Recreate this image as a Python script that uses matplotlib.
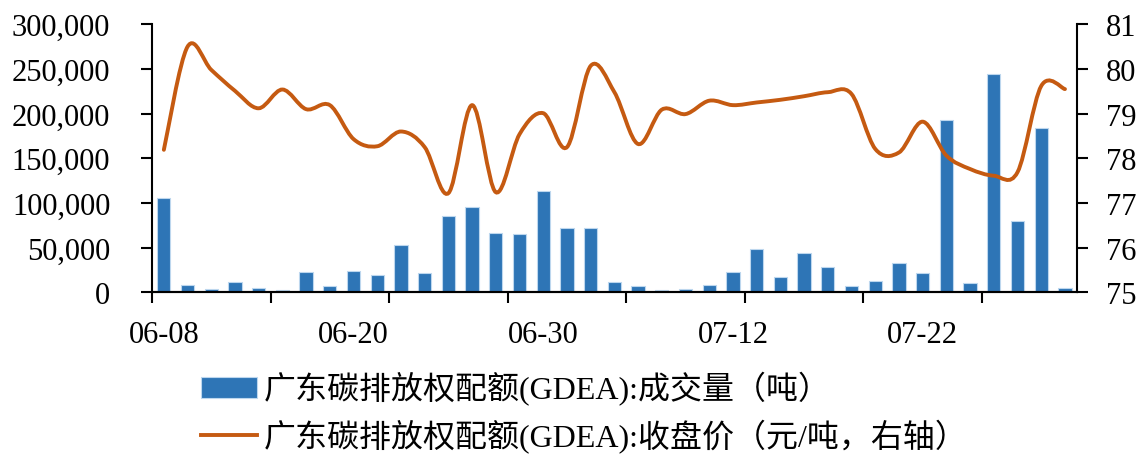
import matplotlib
matplotlib.use("Agg")
import matplotlib.pyplot as plt
from matplotlib.path import Path
from matplotlib.patches import PathPatch, Patch
from matplotlib.lines import Line2D
from matplotlib.ticker import FuncFormatter

dates = ["06-08", "06-09", "06-10", "06-13", "06-14", "06-15", "06-16", "06-17",
         "06-20", "06-21", "06-22", "06-23", "06-24", "06-27", "06-28", "06-29",
         "06-30", "07-01", "07-04", "07-05", "07-06", "07-07", "07-08", "07-11",
         "07-12", "07-13", "07-14", "07-15", "07-18", "07-19", "07-20", "07-21",
         "07-22", "07-25", "07-26", "07-27", "07-28", "07-29", "08-01"]

volume = [105200, 8200, 3700, 11200, 4500, 2200, 22400, 7400, 24200, 19700,
          52600, 21900, 85700, 95800, 66700, 64900, 113000, 72000, 72300, 11200,
          6700, 2900, 3700, 7800, 23100, 48100, 17100, 44000, 28000, 7400,
          12300, 32800, 22000, 192900, 10800, 244400, 79500, 183600, 4800]

price = [78.19, 80.50, 79.98, 79.51, 79.12, 79.54, 79.10, 79.19, 78.43, 78.27,
         78.60, 78.25, 77.22, 79.19, 77.24, 78.54, 79.01, 78.25, 80.07, 79.48,
         78.32, 79.09, 78.99, 79.29, 79.19, 79.25, 79.31, 79.39, 79.48, 79.44,
         78.21, 78.13, 78.82, 78.06, 77.76, 77.61, 77.69, 79.62, 79.55]

label_idx = [0, 8, 16, 24, 32]

BLUE = "#2E75B6"
ORANGE = "#C55A11"
FS = 22
latin = "Liberation Serif"
mixed = ["Liberation Serif", "Noto Sans CJK SC"]

plt.rcParams["font.family"] = latin
plt.rcParams["axes.linewidth"] = 1.5

fig = plt.figure(figsize=(11.48, 4.56), dpi=100)
ax = fig.add_axes([0.1324, 0.3568, 0.8056, 0.5877])
x = list(range(len(volume)))
ax.bar(x, volume, width=0.56, color=BLUE, edgecolor="#BDD7EE", linewidth=0.8, zorder=2)
ax.set_xlim(-0.5, len(volume) - 0.5)
ax.set_ylim(0, 300000)
ax.set_yticks(range(0, 300001, 50000))
ax.yaxis.set_major_formatter(FuncFormatter(lambda v, p: f"{int(v):,}"))
ax.spines["top"].set_visible(False)
ax.spines["right"].set_visible(False)

ax.set_xticks([i - 0.5 for i in range(0, len(volume), 5)])
ax.set_xticklabels([])
ax.set_xticks(label_idx, minor=True)
ax.set_xticklabels([dates[i] for i in label_idx], minor=True)
ax.tick_params(axis="x", which="major", direction="out", length=8, width=1.5)
ax.tick_params(axis="x", which="minor", length=0, pad=20, labelsize=FS)
ax.tick_params(axis="y", direction="out", length=8, width=1.5, pad=22, labelsize=FS)

ax2 = ax.twinx()
ax2.set_ylim(75, 81)
ax2.set_yticks(range(75, 82))
ax2.spines["top"].set_visible(False)
ax2.spines["left"].set_visible(False)
ax2.tick_params(axis="y", direction="out", length=8, width=1.5, pad=13, labelsize=FS)

# smoothed line (Catmull-Rom style bezier, like Excel's smooth line)
pts = list(zip(x, price))
verts = [pts[0]]
codes = [Path.MOVETO]
n = len(pts)
for i in range(n - 1):
    p0 = pts[max(i - 1, 0)]
    p1 = pts[i]
    p2 = pts[i + 1]
    p3 = pts[min(i + 2, n - 1)]
    c1 = (p1[0] + (p2[0] - p0[0]) / 6, p1[1] + (p2[1] - p0[1]) / 6)
    c2 = (p2[0] - (p3[0] - p1[0]) / 6, p2[1] - (p3[1] - p1[1]) / 6)
    verts += [c1, c2, p2]
    codes += [Path.CURVE4] * 3
ax2.add_patch(PathPatch(Path(verts, codes), fill=False, edgecolor=ORANGE,
                        linewidth=2.8, capstyle="round", zorder=3))

handles = [Patch(facecolor=BLUE, edgecolor="#BDD7EE", linewidth=0.8),
           Line2D([], [], color=ORANGE, linewidth=2.8)]
labels = ["广东碳排放权配额(GDEA):成交量（吨）",
          "广东碳排放权配额(GDEA):收盘价（元/吨，右轴）"]
fig.legend(handles, labels, loc="upper left", bbox_to_anchor=(0.1755, 0.183),
           frameon=False, prop={"family": mixed, "size": 23},
           handlelength=1.75, handleheight=0.63, handletextpad=0.2,
           labelspacing=0.42, borderpad=0, borderaxespad=0)

fig.savefig("out.png", dpi=100)
